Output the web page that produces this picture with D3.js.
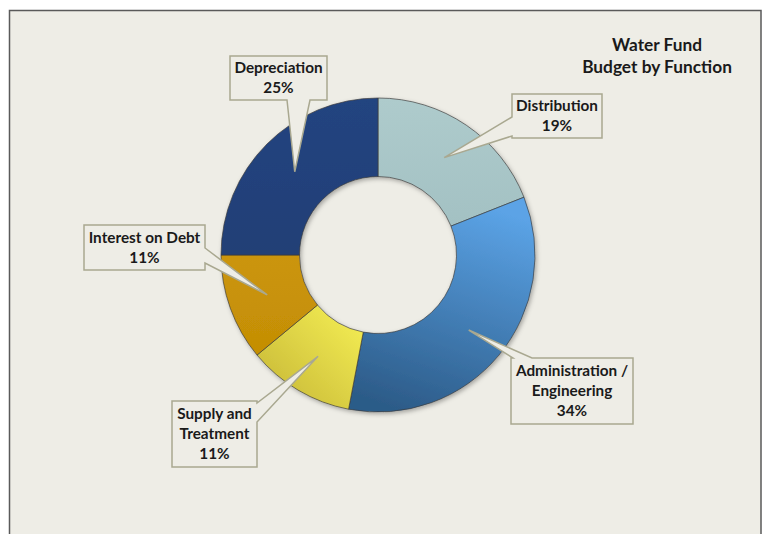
<!DOCTYPE html>
<html>
<head>
<meta charset="utf-8">
<script src="https://cdn.jsdelivr.net/npm/d3@7"></script>
<style>
  html, body { margin: 0; padding: 0; background: #ffffff; }
  svg { display: block; }
</style>
</head>
<body>
<svg id="chart" width="765" height="534"></svg>
<script>
// Water fund budget shares, clockwise from 12 o'clock
const categories = ["Distribution", "Administration / Engineering", "Supply and Treatment", "Interest on Debt", "Depreciation"];
const values = [19, 34, 11, 11, 25];
const labelLines = [
  ["Distribution"],
  ["Administration /", "Engineering"],
  ["Supply and", "Treatment"],
  ["Interest on Debt"],
  ["Depreciation"]
];
const titleLines = ["Water Fund", "Budget by Function"];

const W = 765, H = 534;
const bg = "#eeede6";
const cx = 378, cy = 255, outerR = 157, innerR = 78.5;

// Gradient stops per slice (light → dark)
const sliceFills = [
  { id: "g-dist",  x1: 0, y1: 0, x2: 0, y2: 1, stops: ["#aecbcc", "#a3c1c3"] },
  { id: "g-admin", x1: 0.6, y1: 0, x2: 0.3, y2: 1, stops: ["#5ba3e6", "#2c5b88"] },
  { id: "g-sup",   x1: 1, y1: 0, x2: 0, y2: 1, stops: ["#f7f156", "#c3b334"] },
  { id: "g-int",   x1: 0, y1: 0, x2: 0, y2: 1, stops: ["#cb950a", "#c48e05"] },
  { id: "g-dep",   x1: 0, y1: 0, x2: 0, y2: 1, stops: ["#244480", "#213f76"] }
];

// Callout boxes: [x, y, w, h] and the two points where the pointer leaves the box
const calloutBoxes = [
  { box: [512, 94, 90, 44],  edge: "left",   span: [117, 136] },
  { box: [511, 358, 122, 66], edge: "top",   span: [513, 532] },
  { box: [172, 401, 85, 66], edge: "right",  span: [403, 422] },
  { box: [84, 225, 121, 45], edge: "right",  span: [248, 263] },
  { box: [230, 56, 97, 44],  edge: "bottom", span: [287, 310] }
];

const svg = d3.select("#chart");
const defs = svg.append("defs");

sliceFills.forEach(f => {
  const lg = defs.append("linearGradient")
    .attr("id", f.id)
    .attr("x1", f.x1).attr("y1", f.y1).attr("x2", f.x2).attr("y2", f.y2);
  lg.append("stop").attr("offset", "0%").attr("stop-color", f.stops[0]);
  lg.append("stop").attr("offset", "100%").attr("stop-color", f.stops[1]);
});

const shadow = defs.append("filter").attr("id", "soft-shadow")
  .attr("x", "-10%").attr("y", "-10%").attr("width", "120%").attr("height", "120%");
shadow.append("feDropShadow")
  .attr("dx", 1.5).attr("dy", 2).attr("stdDeviation", 2)
  .attr("flood-color", "#000").attr("flood-opacity", 0.3);

// Frame
svg.append("rect").attr("x", 0).attr("y", 0).attr("width", W).attr("height", H).attr("fill", "#ffffff");
svg.append("rect")
  .attr("x", 9.5).attr("y", 10.5).attr("width", 751.5).attr("height", 540)
  .attr("fill", bg).attr("stroke", "#5a5a5a").attr("stroke-width", 1.5);

// Donut
const pie = d3.pie().sort(null).value(d => d)
  .startAngle(0).endAngle(2 * Math.PI);
const arcs = pie(values);
const arc = d3.arc().innerRadius(innerR).outerRadius(outerR);

const g = svg.append("g").attr("transform", `translate(${cx},${cy})`);
g.append("g").attr("filter", "url(#soft-shadow)")
  .selectAll("path").data(arcs).join("path")
  .attr("d", arc)
  .attr("fill", (d, i) => `url(#${sliceFills[i].id})`)
  .attr("stroke", "#3c3c3c").attr("stroke-opacity", 0.75).attr("stroke-width", 0.9);

// Callouts: box with a wedge pointing to the slice centroid
const fmtPct = v => `${v}%`;
const calloutG = svg.append("g");
arcs.forEach((a, i) => {
  const c = calloutBoxes[i];
  const [bx, by, bw, bh] = c.box;
  const [tx0, ty0] = arc.centroid(a);
  const tip = [cx + tx0, cy + ty0];
  const s = c.span;
  let pts;
  const TL = [bx, by], TR = [bx + bw, by], BR = [bx + bw, by + bh], BL = [bx, by + bh];
  if (c.edge === "left") {
    pts = [TL, TR, BR, BL, [bx, s[1]], tip, [bx, s[0]]];
  } else if (c.edge === "right") {
    pts = [TL, TR, [bx + bw, s[0]], tip, [bx + bw, s[1]], BR, BL];
  } else if (c.edge === "top") {
    pts = [TL, [s[0], by], tip, [s[1], by], TR, BR, BL];
  } else {
    pts = [TL, TR, BR, [s[1], by + bh], tip, [s[0], by + bh], BL];
  }
  calloutG.append("path")
    .attr("d", d3.line()(pts) + "Z")
    .attr("fill", bg)
    .attr("stroke", "#a9a890").attr("stroke-width", 1.5)
    .attr("stroke-linejoin", "miter");

  const lines = labelLines[i].concat([fmtPct(values[i])]);
  const lh = 20;
  const midY = by + bh / 2;
  const t = calloutG.append("text")
    .attr("text-anchor", "middle")
    .attr("font-family", "Lato, 'Open Sans', sans-serif")
    .attr("font-weight", "bold")
    .attr("font-size", 15.3)
    .attr("fill", "#1a1a1a");
  lines.forEach((ln, k) => {
    t.append("tspan")
      .attr("x", bx + bw / 2)
      .attr("y", midY + (k - (lines.length - 1) / 2) * lh)
      .attr("dy", "0.35em")
      .text(ln);
  });
});

// Title
const title = svg.append("text")
  .attr("text-anchor", "middle")
  .attr("font-family", "Lato, 'Open Sans', sans-serif")
  .attr("font-weight", "bold")
  .attr("font-size", 17.3)
  .attr("fill", "#1a1a1a");
titleLines.forEach((ln, k) => {
  title.append("tspan").attr("x", 657).attr("y", 45 + k * 22).attr("dy", "0.35em").text(ln);
});
</script>
</body>
</html>
